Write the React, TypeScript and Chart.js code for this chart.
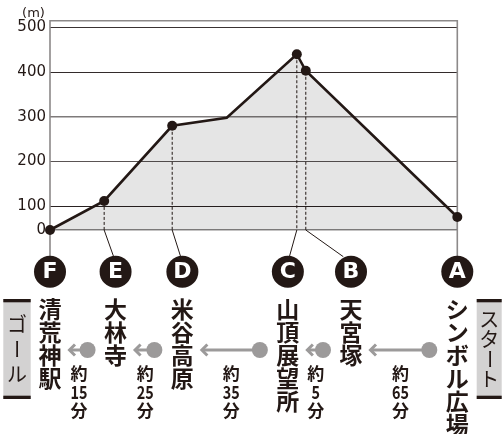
import React, { useEffect, useRef } from 'react';
import { Chart, registerables, LinearScale } from 'chart.js';

// ---------- data ----------
const pointDistance = [0, 13.3, 30.0, 43.4, 60.6, 62.8, 100]; // relative horizontal position along route
const pointElevation = [0, 112, 280, 298, 440, 403, 55]; // metres
const pointStation = ['F', 'E', 'D', '', 'C', 'B', 'A'];
const stationLetters = ['F', 'E', 'D', 'C', 'B', 'A'];
const stationNames = ['清荒神駅', '大林寺', '米谷高原', '山頂展望所', '天宮塚', 'シンボル広場'];
const walkMinutes = ['15', '25', '35', '5', '65']; // between consecutive stations (left to right)
const yTickValues = [0, 100, 200, 300, 400, 500];
const yUnit = '(m)';
const startLabel = 'スタート';
const goalLabel = 'ゴール';

// ---------- layout / style ----------
const labelSlot = [0, 16.1, 32.5, 58.4, 73.9, 100]; // x-units where the circled letters sit
const INK = '#231815';
const FRAME = '#8c8989';
const ARROW = '#9c9a9a';
const gridColorByValue: Record<number, string> = {
  0: '#8a8787',
  100: '#2a2222',
  200: '#5a5454',
  300: '#7e7a7a',
  400: '#332b2b',
  500: '#3a3333',
};
const BREAK_VALUE = 100;
const BREAK_FRACTION = 23.7 / 209.3;

class BrokenLinearScale extends LinearScale {
  static id = 'brokenLinear';
  static defaults = {};
  getPixelForValue(value: any) {
    if (value === null || value === undefined || isNaN(value)) return NaN;
    const min = (this as any).min;
    const max = (this as any).max;
    const f = BREAK_FRACTION;
    const d =
      value <= BREAK_VALUE
        ? ((value - min) / (BREAK_VALUE - min)) * f
        : f + ((value - BREAK_VALUE) / (max - BREAK_VALUE)) * (1 - f);
    return (this as any).getPixelForDecimal(d);
  }
  getValueForPixel(pixel: number) {
    const d = (this as any).getDecimalForPixel(pixel);
    const min = (this as any).min;
    const max = (this as any).max;
    const f = BREAK_FRACTION;
    return d <= f ? min + (d / f) * (BREAK_VALUE - min) : BREAK_VALUE + ((d - f) / (1 - f)) * (max - BREAK_VALUE);
  }
}

Chart.register(...registerables, BrokenLinearScale);

const CJK = '"Noto Sans CJK JP", "Noto Sans CJK SC", sans-serif';

function drawVertical(ctx: CanvasRenderingContext2D, text: string, cx: number, topY: number, advance: number) {
  [...text].forEach((ch, i) => {
    const cy = topY + advance * (i + 0.5);
    if (ch === 'ー') {
      ctx.save();
      ctx.translate(cx, cy);
      ctx.rotate(Math.PI / 2);
      ctx.fillText(ch, 0, 0);
      ctx.restore();
    } else {
      ctx.fillText(ch, cx, cy);
    }
  });
}

const overlayPlugin = {
  id: 'routeOverlay',
  beforeDatasetsDraw(chart: any) {
    const { ctx } = chart;
    const { left, right, top, bottom } = chart.chartArea;
    const xs = chart.scales.x;
    const meta = chart.getDatasetMeta(0);
    const circleY = bottom + 41.7;
    ctx.save();
    // frame
    ctx.strokeStyle = FRAME;
    ctx.lineWidth = 1.6;
    ctx.beginPath();
    ctx.moveTo(left, circleY);
    ctx.lineTo(left, top);
    ctx.lineTo(right, top);
    ctx.lineTo(right, circleY);
    ctx.stroke();
    // leaders
    stationLetters.forEach((letter, k) => {
      if (k === 0 || k === stationLetters.length - 1) return;
      const p = pointStation.indexOf(letter);
      const el = meta.data[p];
      const px = el.x;
      const py = el.y;
      const lx = xs.getPixelForValue(labelSlot[k]);
      ctx.strokeStyle = INK;
      ctx.lineWidth = 1;
      ctx.setLineDash([3, 2]);
      ctx.beginPath();
      ctx.moveTo(px, py + 6);
      ctx.lineTo(px, bottom);
      ctx.stroke();
      ctx.setLineDash([]);
      ctx.beginPath();
      ctx.moveTo(px, bottom);
      ctx.lineTo(lx + (px - lx) * 0.17, circleY - 15);
      ctx.stroke();
    });
    ctx.restore();
  },
  afterDraw(chart: any) {
    const { ctx } = chart;
    const { bottom } = chart.chartArea;
    const xs = chart.scales.x;
    const circleY = bottom + 41.7;
    const lx = (k: number) => xs.getPixelForValue(labelSlot[k]);
    ctx.save();
    // unit
    ctx.fillStyle = INK;
    ctx.font = '13px "DejaVu Sans"';
    ctx.textAlign = 'center';
    ctx.textBaseline = 'middle';
    ctx.fillText(yUnit, 33.5, 13.5);

    // circled letters + names
    stationLetters.forEach((letter, k) => {
      const x = lx(k);
      ctx.fillStyle = INK;
      ctx.beginPath();
      ctx.arc(x, circleY, 16, 0, Math.PI * 2);
      ctx.fill();
      ctx.fillStyle = '#ffffff';
      ctx.font = 'bold 22px "DejaVu Sans", sans-serif';
      ctx.textAlign = 'center';
      ctx.textBaseline = 'middle';
      ctx.fillText(letter, x, circleY + 1);
      ctx.fillStyle = INK;
      ctx.font = `bold 23px ${CJK}`;
      drawVertical(ctx, stationNames[k], x, bottom + 68, 23);
    });

    // arrows + times
    const ay = bottom + 120;
    for (let i = 0; i < walkMinutes.length; i++) {
      const xStart = lx(i + 1) - 28;
      const xTip = lx(i) + 18.5;
      ctx.strokeStyle = ARROW;
      ctx.fillStyle = ARROW;
      ctx.lineWidth = 3;
      ctx.beginPath();
      ctx.moveTo(xStart, ay);
      ctx.lineTo(xTip + 2, ay);
      ctx.stroke();
      ctx.beginPath();
      ctx.moveTo(xTip + 6.5, ay - 5.5);
      ctx.lineTo(xTip + 1, ay);
      ctx.lineTo(xTip + 6.5, ay + 5.5);
      ctx.stroke();
      ctx.beginPath();
      ctx.arc(xStart, ay, 8, 0, Math.PI * 2);
      ctx.fill();

      const xm = (xStart + xTip) / 2 + 1;
      ctx.fillStyle = INK;
      ctx.font = `bold 17px ${CJK}`;
      ctx.textAlign = 'center';
      ctx.textBaseline = 'middle';
      ctx.fillText('約', xm, bottom + 144);
      ctx.fillText('分', xm, bottom + 181);
      ctx.save();
      ctx.translate(xm, bottom + 162.5);
      ctx.scale(0.8, 1);
      ctx.font = `bold 18px ${CJK}`;
      ctx.fillText(walkMinutes[i], 0, 0);
      ctx.restore();
    }

    // start / goal boxes
    const boxTop = bottom + 69;
    const boxH = 100;
    const drawBox = (x0: number, w: number, text: string, adv: number) => {
      ctx.fillStyle = '#d3d2d2';
      ctx.fillRect(x0, boxTop, w, boxH);
      ctx.fillStyle = INK;
      ctx.fillRect(x0, boxTop, w, 3.3);
      ctx.fillRect(x0, boxTop + boxH - 3.3, w, 3.3);
      ctx.font = `20px ${CJK}`;
      ctx.textAlign = 'center';
      ctx.textBaseline = 'middle';
      const total = adv * [...text].length;
      drawVertical(ctx, text, x0 + w / 2, boxTop + (boxH - total) / 2, adv);
    };
    drawBox(476.7, 25, startLabel, 20);
    drawBox(3.3, 27.4, goalLabel, 25);
    ctx.restore();
  },
};

export default function App() {
  const ref = useRef<HTMLCanvasElement>(null);
  useEffect(() => {
    const chart = new Chart(ref.current as HTMLCanvasElement, {
      type: 'line',
      data: {
        datasets: [
          {
            data: pointDistance.map((x, i) => ({ x, y: pointElevation[i] })),
            borderColor: INK,
            borderWidth: 2.6,
            backgroundColor: 'rgba(0,0,0,0.1)',
            fill: 'start',
            pointRadius: pointStation.map((s) => (s ? 5 : 0)),
            pointBackgroundColor: INK,
            pointBorderWidth: 0,
            tension: 0,
            clip: false as any,
          } as any,
        ],
      },
      options: {
        animation: false,
        responsive: true,
        maintainAspectRatio: false,
        events: [],
        layout: { padding: { top: 20.7, right: 45.7, bottom: 204, left: 0 } },
        plugins: { legend: { display: false }, tooltip: { enabled: false } },
        scales: {
          x: { type: 'linear', min: 0, max: 100, display: false },
          y: {
            type: 'brokenLinear' as any,
            min: 0,
            max: 515,
            afterBuildTicks: (s: any) => {
              s.ticks = yTickValues.map((v) => ({ value: v }));
            },
            afterFit: (s: any) => {
              s.width = 50;
            },
            grid: {
              color: (c: any) => gridColorByValue[c.tick?.value] ?? '#444',
              lineWidth: (c: any) => (c.tick?.value === 0 || c.tick?.value === 300 ? 1.6 : 1.1),
              drawTicks: false,
            },
            border: { display: false },
            ticks: {
              padding: 4,
              color: INK,
              font: { family: 'DejaVu Sans', size: 15 },
            },
          } as any,
        },
      },
      plugins: [overlayPlugin],
    });
    return () => chart.destroy();
  }, []);
  return (
    <div style={{ position: 'fixed', left: 0, top: 0, width: 503, height: 434 }}>
      <canvas ref={ref} />
    </div>
  );
}
